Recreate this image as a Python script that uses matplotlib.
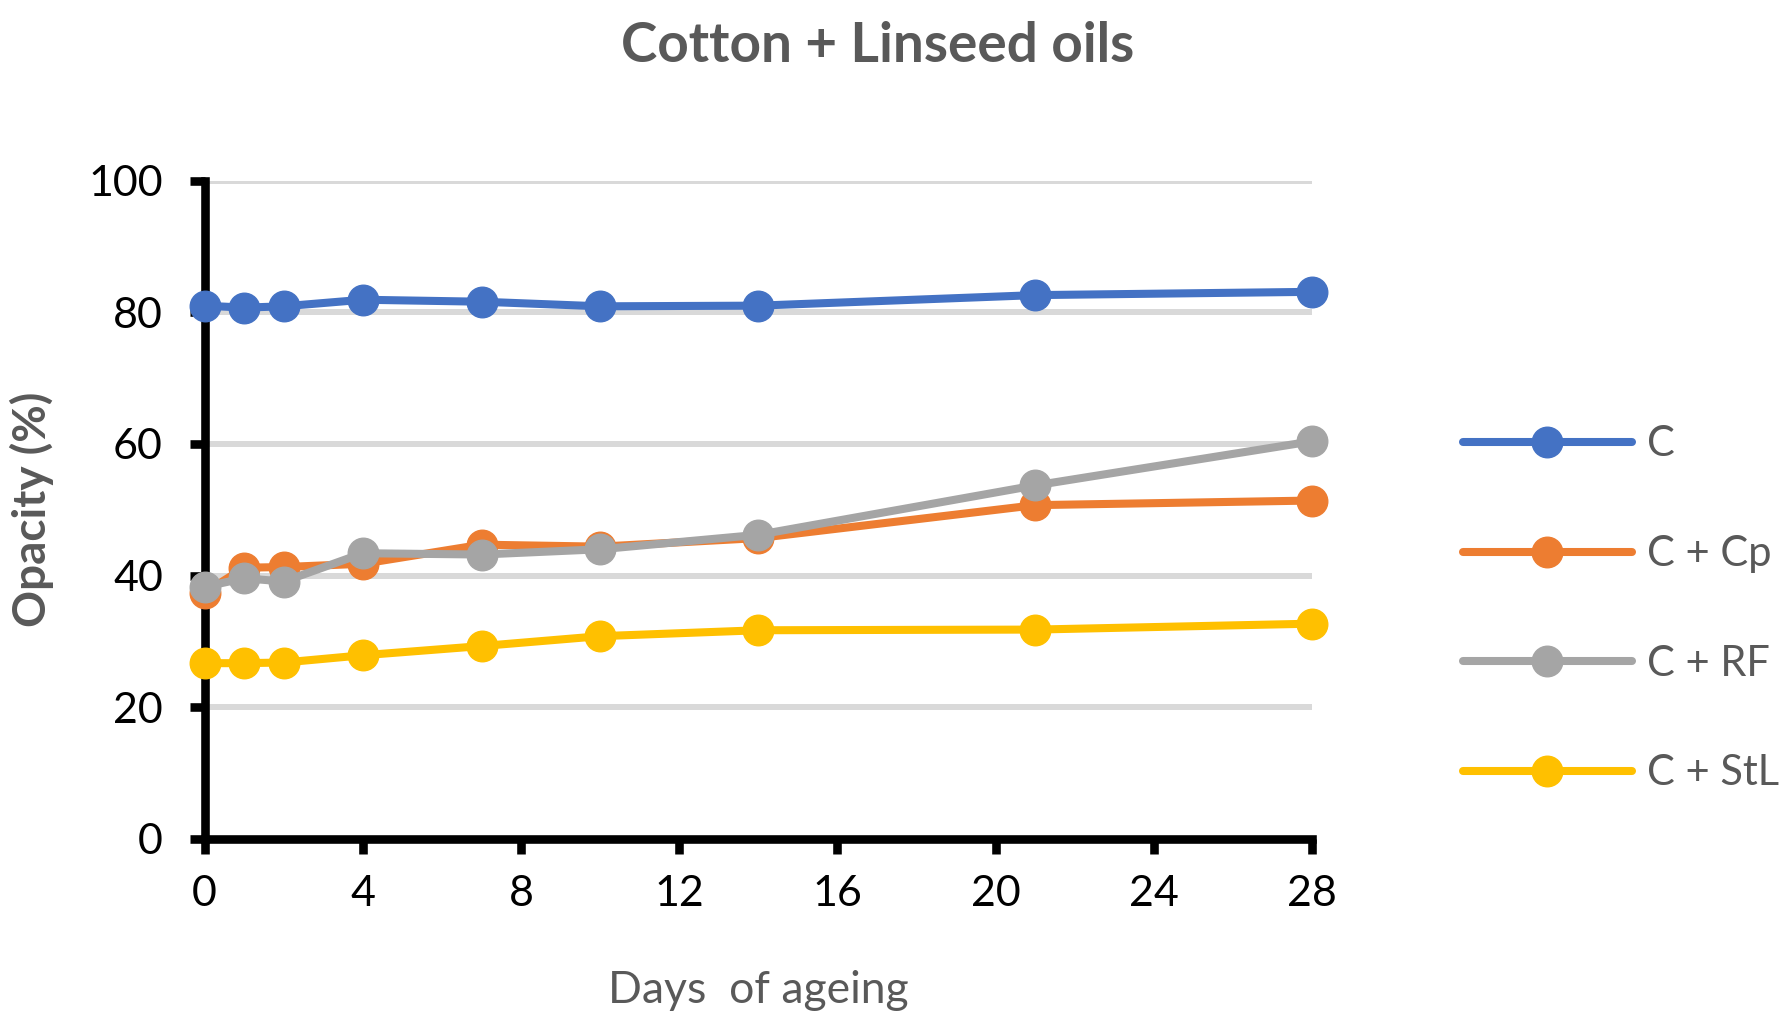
import numpy as np
import matplotlib
matplotlib.use("Agg")
import matplotlib.pyplot as plt

plt.rcParams['font.family'] = ['Lato', 'DejaVu Sans']

days = [0, 1, 2, 4, 7, 10, 14, 21, 28]
labels = ['C', 'C + Cp', 'C + RF', 'C + StL']
c_vals = [81.0, 80.7, 80.9, 81.9, 81.6, 80.9, 81.0, 82.6, 83.1]
cp_vals = [37.4, 41.2, 41.3, 41.8, 44.7, 44.4, 45.7, 50.7, 51.4]
rf_vals = [38.3, 39.6, 39.1, 43.4, 43.2, 44.0, 46.2, 53.7, 60.4]
stl_vals = [26.7, 26.7, 26.8, 27.9, 29.3, 30.8, 31.7, 31.8, 32.7]
colors = ['#4472C4', '#ED7D31', '#A5A5A5', '#FFC000']

xticks = np.arange(0, 29, 4)
yticks = np.arange(0, 101, 20)

fig = plt.figure(figsize=(17.92, 10.23), dpi=100)
ax = fig.add_axes([0.1142, 0.1799, 0.618, 0.6436])

# gridlines stop at the last day like in the original
for yv in yticks[1:]:
    ax.plot([0, 28], [yv, yv], color='#D9D9D9', lw=4.3, zorder=1, solid_capstyle='butt')

series = [c_vals, cp_vals, rf_vals, stl_vals]
for vals, lab, col in zip(series, labels, colors):
    ax.plot(days, vals, color=col, lw=5.8, marker='o', ms=22, label=lab,
            zorder=3, clip_on=False, solid_capstyle='round')

ax.set_xlim(0, 28)
ax.set_ylim(0, 100)
ax.set_xticks(xticks)
ax.set_yticks(yticks)
for s in ['top', 'right']:
    ax.spines[s].set_visible(False)
for s in ['left', 'bottom']:
    ax.spines[s].set_linewidth(6.2)
    ax.spines[s].set_color('black')
ax.tick_params(axis='both', direction='out', length=11, width=6.2, color='black',
               labelsize=31, labelcolor='black')
ax.tick_params(axis='y', pad=19)
ax.tick_params(axis='x', pad=15)

fig.text(0.49, 0.955, 'Cotton + Linseed oils', ha='center', va='center',
         fontsize=39.5, fontweight='bold', color='#595959')
fig.text(0.018, 0.5024, 'Opacity (%)', ha='center', va='center', rotation=90,
         fontsize=33, fontweight='bold', color='#595959')
fig.text(0.423, 0.032, 'Days  of ageing', ha='center', va='center',
         fontsize=32, color='#595959')

fig.legend(loc='center left', bbox_to_anchor=(0.8164, 0.4047), frameon=False,
           fontsize=30, labelcolor='#595959', handlelength=4.05, handletextpad=0.36,
           labelspacing=1.72, borderpad=0, borderaxespad=0, numpoints=1)

fig.savefig('out.png', dpi=100)
